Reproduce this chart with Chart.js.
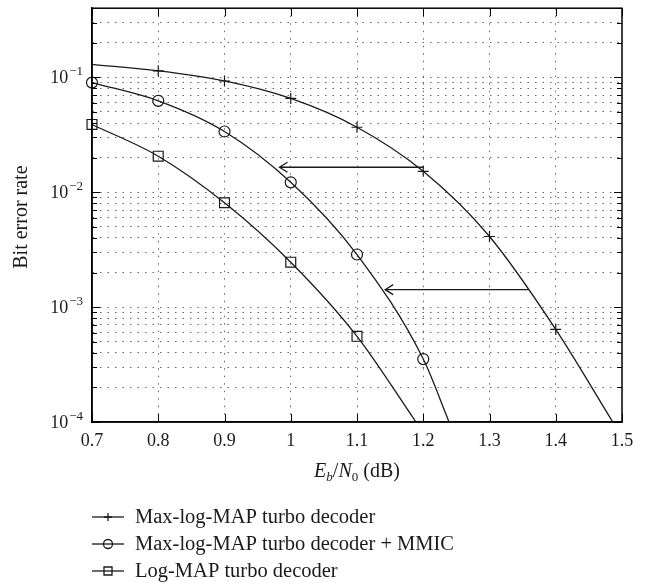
<!DOCTYPE html>
<html>
<head>
<meta charset="utf-8">
<script src="https://cdn.jsdelivr.net/npm/chart.js@4.4.0/dist/chart.umd.min.js"></script>
<style>
  html, body { margin: 0; padding: 0; background: #fff; }
</style>
</head>
<body>
<canvas id="berChart" width="647" height="583"></canvas>
<script>
// Eb/N0 axis ticks and log-axis decades
const ebn0Ticks = [0.7, 0.8, 0.9, 1.0, 1.1, 1.2, 1.3, 1.4, 1.5];
const berDecades = [1e-4, 1e-3, 1e-2, 1e-1];
const berDecadeExp = ['\u22124', '\u22123', '\u22122', '\u22121'];
const berMin = 1e-4;
const berMax = 0.4;

// Max-log-MAP turbo decoder (+)
const maxLogX      = [0.7, 0.8, 0.9, 1.0, 1.1, 1.2, 1.3, 1.4, 1.486];
const maxLogBer    = [0.130, 0.114, 0.093, 0.0655, 0.0368, 0.0152, 0.00412, 0.00064, 1e-4];
const maxLogMarked = [0, 1, 1, 1, 1, 1, 1, 1, 0];

// Max-log-MAP turbo decoder + MMIC (o)
const mmicX      = [0.7, 0.8, 0.9, 1.0, 1.1, 1.2, 1.239];
const mmicBer    = [0.090, 0.0625, 0.0338, 0.0122, 0.00287, 0.000353, 1e-4];
const mmicMarked = [1, 1, 1, 1, 1, 1, 0];

// Log-MAP turbo decoder (square)
const logMapX      = [0.7, 0.8, 0.9, 1.0, 1.1, 1.189];
const logMapBer    = [0.0389, 0.0206, 0.0081, 0.00246, 0.000557, 1e-4];
const logMapMarked = [1, 1, 1, 1, 1, 0];

const seriesLabels = [
  'Max-log-MAP turbo decoder',
  'Max-log-MAP turbo decoder + MMIC',
  'Log-MAP turbo decoder'
];

// arrows: from x, to x, at BER
const arrowFromX = [1.2, 1.359];
const arrowToX   = [0.983, 1.1425];
const arrowBer   = [0.0165, 0.00142];

const serif = '"Liberation Serif", "DejaVu Serif", serif';
const ink = '#1a1a1a';

function toPoints(xs, ys) {
  return xs.map((x, i) => ({ x: x, y: ys[i] }));
}

function makeSeries(label, xs, ys, marked, style, radius) {
  return {
    label: label,
    data: toPoints(xs, ys),
    borderColor: ink,
    borderWidth: 1.3,
    backgroundColor: 'transparent',
    pointStyle: style,
    pointRadius: marked.map(m => m ? radius : 0),
    pointBorderColor: ink,
    pointBorderWidth: 1.2,
    pointBackgroundColor: 'transparent',
    cubicInterpolationMode: 'monotone',
    clip: false,
    fill: false
  };
}

function drawMarker(ctx, style, x, y, r) {
  ctx.beginPath();
  if (style === 'cross') {
    ctx.moveTo(x - r, y); ctx.lineTo(x + r, y);
    ctx.moveTo(x, y - r); ctx.lineTo(x, y + r);
  } else if (style === 'circle') {
    ctx.arc(x, y, r, 0, Math.PI * 2);
  } else {
    ctx.rect(x - r, y - r, 2 * r, 2 * r);
  }
  ctx.stroke();
}

// frame, inward ticks, labels with superscripts, arrows and legend
const decorations = {
  id: 'decorations',
  afterDraw(chart) {
    const ctx = chart.ctx;
    const area = chart.chartArea;
    const xs = chart.scales.x;
    const ys = chart.scales.y;
    ctx.save();

    // frame
    ctx.strokeStyle = '#000';
    ctx.lineWidth = 1.5;
    ctx.strokeRect(area.left, area.top, area.right - area.left, area.bottom - area.top);

    // x ticks (bottom & top, pointing in)
    ctx.lineWidth = 1;
    ctx.beginPath();
    ebn0Ticks.forEach(v => {
      const px = Math.round(xs.getPixelForValue(v)) + 0.5;
      ctx.moveTo(px, area.bottom); ctx.lineTo(px, area.bottom - 8);
      ctx.moveTo(px, area.top); ctx.lineTo(px, area.top + 8);
    });
    // y ticks (left & right, pointing in)
    ys.ticks.forEach(t => {
      const py = Math.round(ys.getPixelForValue(t.value)) + 0.5;
      const len = t.major ? 8 : 5;
      ctx.moveTo(area.left, py); ctx.lineTo(area.left + len, py);
      ctx.moveTo(area.right, py); ctx.lineTo(area.right - len, py);
    });
    ctx.stroke();

    // y labels: 10^-n
    ctx.fillStyle = ink;
    ctx.textBaseline = 'alphabetic';
    berDecades.forEach((v, i) => {
      const py = ys.getPixelForValue(v);
      ctx.font = '13px ' + serif;
      const wSup = ctx.measureText(berDecadeExp[i]).width;
      ctx.font = '18px ' + serif;
      const wBase = ctx.measureText('10').width;
      const right = area.left - 9;
      ctx.textAlign = 'left';
      ctx.fillText('10', right - wSup - wBase - 1, py + 6);
      ctx.font = '13px ' + serif;
      ctx.fillText(berDecadeExp[i], right - wSup, py - 2);
    });

    // y title
    ctx.save();
    ctx.translate(22, (area.top + area.bottom) / 2 + 2);
    ctx.rotate(-Math.PI / 2);
    ctx.font = '20px ' + serif;
    ctx.textAlign = 'center';
    ctx.textBaseline = 'middle';
    ctx.fillText('Bit error rate', 0, 0);
    ctx.restore();

    // x title: E_b/N_0 (dB)
    const parts = [
      { t: 'E', f: 'italic 20px ', dy: 0 },
      { t: 'b', f: 'italic 13px ', dy: 4 },
      { t: '/', f: '20px ', dy: 0 },
      { t: 'N', f: 'italic 20px ', dy: 0 },
      { t: '0', f: '13px ', dy: 4 },
      { t: ' (dB)', f: '20px ', dy: 0 }
    ];
    let total = 0;
    parts.forEach(p => { ctx.font = p.f + serif; p.w = ctx.measureText(p.t).width; total += p.w; });
    let cx = (area.left + area.right) / 2 - total / 2;
    const baseY = 477;
    ctx.textAlign = 'left';
    parts.forEach(p => {
      ctx.font = p.f + serif;
      ctx.fillText(p.t, cx, baseY + p.dy);
      cx += p.w;
    });

    // arrows
    ctx.strokeStyle = ink;
    ctx.lineWidth = 1.3;
    arrowBer.forEach((b, i) => {
      const py = ys.getPixelForValue(b);
      const x1 = xs.getPixelForValue(arrowFromX[i]);
      const x2 = xs.getPixelForValue(arrowToX[i]);
      ctx.beginPath();
      ctx.moveTo(x1, py); ctx.lineTo(x2, py);
      ctx.moveTo(x2 + 8, py - 5); ctx.lineTo(x2, py); ctx.lineTo(x2 + 8, py + 5);
      ctx.stroke();
    });

    // legend
    const rowY = [517, 544, 571];
    const styles = ['cross', 'circle', 'rect'];
    const radii = [4, 4.5, 4];
    chart.data.datasets.forEach((ds, i) => {
      const y = rowY[i];
      ctx.strokeStyle = ink;
      ctx.lineWidth = 1.3;
      ctx.beginPath();
      ctx.moveTo(92, y); ctx.lineTo(124, y);
      ctx.stroke();
      drawMarker(ctx, styles[i], 108, y, radii[i]);
      ctx.font = '20.5px ' + serif;
      ctx.fillStyle = ink;
      ctx.textBaseline = 'middle';
      ctx.fillText(ds.label, 135, y + 1);
    });

    ctx.restore();
  }
};

window.onload = function () {
  const ctx = document.getElementById('berChart').getContext('2d');

  const data = {
    datasets: [
      makeSeries(seriesLabels[0], maxLogX, maxLogBer, maxLogMarked, 'cross', 5.5),
      makeSeries(seriesLabels[1], mmicX, mmicBer, mmicMarked, 'circle', 5.5),
      makeSeries(seriesLabels[2], logMapX, logMapBer, logMapMarked, 'rect', 7)
    ]
  };

  const options = {
    responsive: false,
    animation: false,
    devicePixelRatio: 1,
    layout: { padding: { left: 0, right: 25, top: 4, bottom: 0 } },
    plugins: {
      legend: { display: false },
      tooltip: { enabled: false }
    },
    scales: {
      x: {
        type: 'linear',
        min: 0.7,
        max: 1.5,
        afterBuildTicks: scale => { scale.ticks = ebn0Ticks.map(v => ({ value: v })); },
        afterFit: scale => { scale.height = 161; },
        ticks: {
          callback: v => String(+v.toFixed(1)),
          font: { family: serif, size: 18 },
          color: ink,
          padding: 8,
          maxRotation: 0
        },
        grid: {
          drawTicks: false,
          color: c => (c.tick && (c.tick.value <= 0.7 || c.tick.value >= 1.5)) ? 'transparent' : '#666',
          lineWidth: 1
        },
        border: { display: true, color: '#000', width: 1.5, dash: [1.5, 6] }
      },
      y: {
        type: 'logarithmic',
        min: berMin,
        max: berMax,
        afterBuildTicks: scale => {
          const ticks = [];
          berDecades.forEach(d => {
            for (let k = 1; k <= 9; k++) {
              const v = d * k;
              if (v <= berMax + 1e-12) ticks.push({ value: v, major: k === 1 });
            }
          });
          scale.ticks = ticks;
        },
        afterFit: scale => { scale.width = 92; },
        ticks: { display: false },
        grid: {
          drawTicks: false,
          color: c => (c.tick && (c.tick.value <= berMin * 1.0001 || c.tick.value >= berMax * 0.999)) ? 'transparent' : '#666',
          lineWidth: 1
        },
        border: { display: true, color: '#000', width: 1.5, dash: [1.5, 6] }
      }
    }
  };

  new Chart(ctx, {
    type: 'line',
    data: data,
    options: options,
    plugins: [decorations]
  });
};
</script>
</body>
</html>
